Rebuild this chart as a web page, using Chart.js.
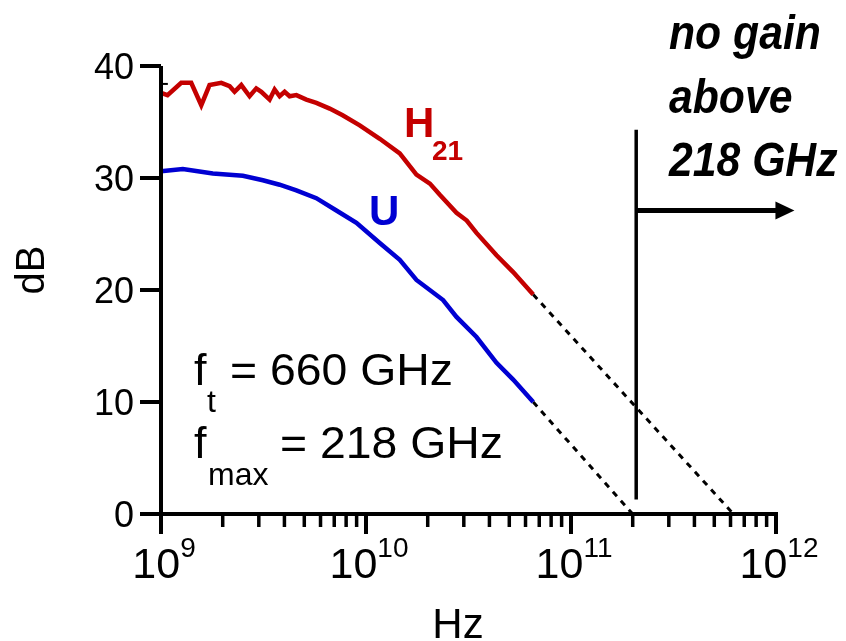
<!DOCTYPE html>
<html>
<head>
<meta charset="utf-8">
<script src="https://cdn.jsdelivr.net/npm/chart.js@4"></script>
<style>
  html, body { margin: 0; padding: 0; background: #fff; }
</style>
</head>
<body>
<canvas id="gainChart" width="846" height="641"></canvas>
<script>
// --- Data (Hz, dB) ---
const h21Hz = [1.0e9, 1.076e9, 1.255e9, 1.404e9, 1.572e9, 1.725e9, 1.968e9, 2.161e9, 2.285e9, 2.464e9,
    2.705e9, 2.916e9, 3.085e9, 3.387e9, 3.583e9, 3.79e9, 4.009e9, 4.241e9, 4.574e9, 5.117e9,
    5.725e9, 6.65e9, 7.69e9, 9.32e9, 1.167e10, 1.461e10, 1.762e10, 2.05e10, 2.291e10, 2.763e10,
    3.1e10, 3.459e10, 4.332e10, 5.222e10, 6.54e10];
const h21Db = [37.6, 37.4, 38.5, 38.5, 36.5, 38.3, 38.5, 38.2, 37.7, 38.3,
    37.3, 38.0, 37.7, 37.0, 37.9, 37.3, 37.7, 37.3, 37.4, 37.0,
    36.7, 36.2, 35.6, 34.7, 33.5, 32.2, 30.3, 29.5, 28.5, 26.9,
    26.2, 25.1, 23.1, 21.6, 19.6];

const uHz = [1.0e9, 1.278e9, 1.79e9, 2.508e9, 3.141e9, 3.79e9, 4.574e9, 5.725e9, 7.17e9, 8.98e9,
    1.167e10, 1.461e10, 1.762e10, 2.377e10, 2.763e10, 3.459e10, 4.332e10, 5.222e10, 6.54e10];
const uDb = [30.6, 30.8, 30.4, 30.2, 29.8, 29.4, 28.9, 28.2, 27.1, 26.0,
    24.2, 22.7, 20.9, 19.1, 17.6, 15.8, 13.5, 12.0, 10.0];

// -20 dB/decade extrapolations
const h21FitHz = [6.54e10, 6.2e11];
const h21FitDb = [19.6, 0];
const uFitHz = [6.54e10, 2.0e11];
const uFitDb = [10.0, 0];
const h21TopFitHz = [1.0e9, 1.08e9];
const h21TopFitDb = [38.4, 38.4];

// fmax marker line and arrow
const fmaxHz = 2.08e11;
const fmaxLineDb = [1.3, 34.3];
const arrowTipHz = 1.23e12;
const arrowDb = 27.1;

// Axis ticks
const yTicks = [0, 10, 20, 30, 40];
const xDecades = [9, 10, 11, 12];

const RED = '#c40000';
const BLUE = '#0000d2';

function pts(xs, ys) {
    return xs.map((v, i) => ({ x: v, y: ys[i] }));
}

// draw text with optional horizontal squeeze
function drawText(ctx, str, x, y, font, color, align, sx) {
    ctx.save();
    ctx.font = font;
    ctx.fillStyle = color || '#000';
    ctx.textAlign = align || 'left';
    ctx.textBaseline = 'alphabetic';
    ctx.translate(x, y);
    ctx.scale(sx || 1, 1);
    ctx.fillText(str, 0, 0);
    ctx.restore();
}

const FONT = '"Liberation Sans", Arial, sans-serif';

const paperAxes = {
    id: 'paperAxes',
    afterDatasetsDraw(chart) {
        const { ctx, chartArea: a, scales: { x, y } } = chart;
        ctx.save();
        ctx.strokeStyle = '#000';
        ctx.fillStyle = '#000';

        // vertical fmax line
        const fx = x.getPixelForValue(fmaxHz);
        ctx.lineWidth = 3.5;
        ctx.beginPath();
        ctx.moveTo(fx, y.getPixelForValue(fmaxLineDb[0]));
        ctx.lineTo(fx, y.getPixelForValue(fmaxLineDb[1]));
        ctx.stroke();

        // arrow
        const ay = y.getPixelForValue(arrowDb);
        const tip = x.getPixelForValue(arrowTipHz);
        ctx.lineWidth = 5;
        ctx.beginPath();
        ctx.moveTo(fx, ay);
        ctx.lineTo(tip - 16, ay);
        ctx.stroke();
        ctx.beginPath();
        ctx.moveTo(tip, ay);
        ctx.lineTo(tip - 19, ay - 9);
        ctx.lineTo(tip - 19, ay + 9);
        ctx.closePath();
        ctx.fill();

        // axes
        ctx.lineWidth = 4;
        ctx.beginPath();
        ctx.moveTo(a.left, a.top);
        ctx.lineTo(a.left, a.bottom + 20);
        ctx.moveTo(a.left - 21, a.bottom);
        ctx.lineTo(a.right + 2, a.bottom);
        ctx.stroke();

        // y ticks + labels
        yTicks.forEach(v => {
            const py = y.getPixelForValue(v);
            ctx.beginPath();
            ctx.moveTo(a.left - 21, py);
            ctx.lineTo(a.left, py);
            ctx.stroke();
            drawText(ctx, String(v), a.left - 27, py + 13, '36px ' + FONT, '#000', 'right');
        });

        // x ticks (major decades, minor 2..9)
        xDecades.forEach((d, i) => {
            const px = x.getPixelForValue(Math.pow(10, d));
            ctx.lineWidth = 4;
            ctx.beginPath();
            ctx.moveTo(px, a.bottom);
            ctx.lineTo(px, a.bottom + 20);
            ctx.stroke();
            if (i < xDecades.length - 1) {
                ctx.lineWidth = 3.5;
                for (let m = 2; m <= 9; m++) {
                    const mx = x.getPixelForValue(m * Math.pow(10, d));
                    ctx.beginPath();
                    ctx.moveTo(mx, a.bottom);
                    ctx.lineTo(mx, a.bottom + 13);
                    ctx.stroke();
                }
            }
            // label 10^d
            ctx.font = '43px ' + FONT;
            const wBase = ctx.measureText('10').width;
            ctx.font = '28px ' + FONT;
            const wExp = ctx.measureText(String(d)).width;
            const left = px + 3 - (wBase + wExp) / 2;
            drawText(ctx, '10', left, a.bottom + 64, '43px ' + FONT);
            drawText(ctx, String(d), left + wBase, a.bottom + 43, '28px ' + FONT);
        });

        // axis titles
        drawText(ctx, 'Hz', 458, 638, '42px ' + FONT, '#000', 'center');
        ctx.save();
        ctx.translate(44, 270);
        ctx.rotate(-Math.PI / 2);
        drawText(ctx, 'dB', 0, 0, '40px ' + FONT, '#000', 'center');
        ctx.restore();

        // series labels
        drawText(ctx, 'H', 404, 137, 'bold 42px ' + FONT, RED);
        drawText(ctx, '21', 432, 160, 'bold 28px ' + FONT, RED);
        drawText(ctx, 'U', 369, 225, 'bold 42px ' + FONT, BLUE);

        // ft / fmax
        drawText(ctx, 'f', 194, 385, '45px ' + FONT);
        drawText(ctx, 't', 207, 412, '32px ' + FONT);
        drawText(ctx, '= 660 GHz', 230, 385, '45px ' + FONT, '#000', 'left', 1.03);
        drawText(ctx, 'f', 194, 458, '45px ' + FONT);
        drawText(ctx, 'max', 208, 485, '32px ' + FONT);
        drawText(ctx, '= 218 GHz', 280, 458, '45px ' + FONT, '#000', 'left', 1.03);

        // no gain note
        const noteFont = 'italic bold 48px ' + FONT;
        drawText(ctx, 'no gain', 669, 49, noteFont, '#000', 'left', 0.89);
        drawText(ctx, 'above', 669, 113, noteFont, '#000', 'left', 0.89);
        drawText(ctx, '218 GHz', 669, 176, noteFont, '#000', 'left', 0.89);

        ctx.restore();
    }
};

const ctx = document.getElementById('gainChart').getContext('2d');
new Chart(ctx, {
    type: 'scatter',
    data: {
        datasets: [
            { data: pts(h21Hz, h21Db), showLine: true, borderColor: RED, borderWidth: 4.5, clip: false },
            { data: pts(uHz, uDb), showLine: true, borderColor: BLUE, borderWidth: 4.5, clip: false },
            { data: pts(h21FitHz, h21FitDb), showLine: true, borderColor: '#000', borderWidth: 3, borderDash: [6, 6], clip: false },
            { data: pts(uFitHz, uFitDb), showLine: true, borderColor: '#000', borderWidth: 3, borderDash: [6, 6], clip: false },
            { data: pts(h21TopFitHz, h21TopFitDb), showLine: true, borderColor: '#000', borderWidth: 2, clip: false }
        ]
    },
    options: {
        responsive: false,
        animation: false,
        layout: { padding: { left: 161, right: 70, top: 66, bottom: 127 } },
        elements: { point: { radius: 0, hoverRadius: 0 }, line: { tension: 0 } },
        plugins: { legend: { display: false }, tooltip: { enabled: false } },
        scales: {
            x: { type: 'logarithmic', min: 1e9, max: 1e12, display: false },
            y: { min: 0, max: 40, display: false }
        }
    },
    plugins: [paperAxes]
});
</script>
</body>
</html>
